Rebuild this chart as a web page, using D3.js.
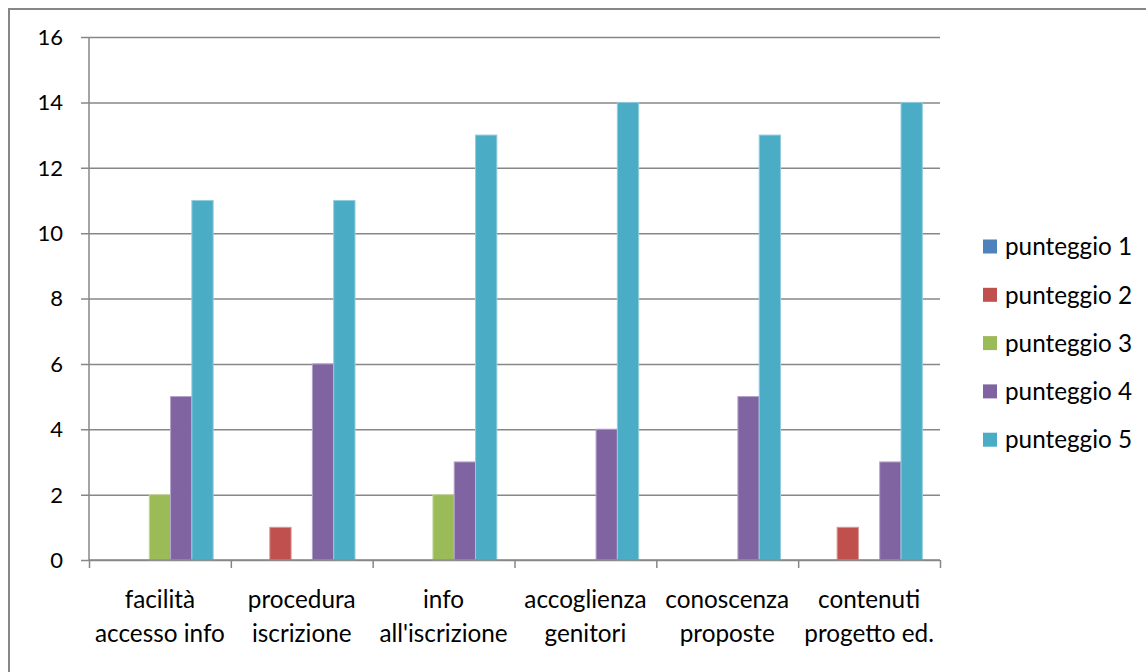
<!DOCTYPE html>
<html><head><meta charset="utf-8">
<script src="https://cdn.jsdelivr.net/npm/d3@7"></script>
<style>body{margin:0;background:#fff}svg{display:block}text{font-family:Lato,"Open Sans",sans-serif;fill:#000}</style>
</head><body><svg id="c" width="1146" height="672"></svg>
<script>
const categories = [["facilità","accesso info"],["procedura","iscrizione"],["info","all'iscrizione"],["accoglienza","genitori"],["conoscenza","proposte"],["contenuti","progetto ed."]];
const seriesNames = ["punteggio 1","punteggio 2","punteggio 3","punteggio 4","punteggio 5"];
const p1 = [0,0,0,0,0,0];
const p2 = [0,1,0,0,0,1];
const p3 = [2,0,2,0,0,0];
const p4 = [5,6,3,4,5,3];
const p5 = [11,11,13,14,13,14];
const yTicks = [0,2,4,6,8,10,12,14,16];
const colors = ["#4F81BD","#C0504D","#9BBB59","#8064A2","#4BACC6"];
const strokes = ["#8EABD6","#DA9593","#C4D79E","#B3A2C7","#93CDDD"];
const series = [p1,p2,p3,p4,p5];

const svg = d3.select("#c");
const L=89, R=940, T=37, B=560;
const FSY = 22, FS = 24.3;

// frame
svg.append("path").attr("d","M9,672 L9,9 L1146,9").attr("fill","none").attr("stroke","#878787").attr("stroke-width",2);

const x0 = d3.scaleBand().domain(d3.range(categories.length)).range([L,R]).padding(0);
const gw = x0.bandwidth();
const bw = 21.3;
const x1 = d3.scaleBand().domain(d3.range(series.length)).range([(gw-5*bw)/2,(gw+5*bw)/2]).padding(0);
const y = d3.scaleLinear().domain([0,16]).range([B,T]);

// gridlines
const yAxis = d3.axisLeft(y).tickValues(yTicks).tickSize(-(R-L)).tickFormat("");
const gy = svg.append("g").attr("transform",`translate(${L},0)`).call(yAxis);
gy.select(".domain").remove();
gy.selectAll("line").attr("stroke","#878787").attr("stroke-width",1.5).attr("x1",-8);

// bars
const groups = svg.append("g").selectAll("g").data(categories).join("g")
  .attr("transform",(d,i)=>`translate(${x0(i)},0)`);
groups.selectAll("rect").data((d,i)=>series.map((s,k)=>({k,v:s[i]}))).join("rect")
  .filter(d=>d.v>0)
  .attr("x",d=>x1(d.k)).attr("width",x1.bandwidth())
  .attr("y",d=>y(d.v)).attr("height",d=>y(0)-y(d.v))
  .attr("fill",d=>colors[d.k]).attr("stroke",d=>strokes[d.k]).attr("stroke-width",1);

// axes lines
svg.append("line").attr("x1",L).attr("x2",L).attr("y1",T).attr("y2",B).attr("stroke","#878787").attr("stroke-width",1.5);
const xAxis = d3.axisBottom(d3.scaleLinear().domain([0,6]).range([L,R])).tickValues(d3.range(7)).tickSize(8).tickFormat("");
const gx = svg.append("g").attr("transform",`translate(0,${B})`).call(xAxis);
gx.select(".domain").attr("d",`M${L},0H${R}`).attr("stroke","#878787").attr("stroke-width",1.5);
gx.selectAll("line").attr("stroke","#878787").attr("stroke-width",1.5);

// y labels
svg.append("g").selectAll("text").data(yTicks).join("text")
  .attr("x",63).attr("y",d=>y(d)).attr("dy","0.36em").attr("text-anchor","end")
  .attr("font-size",FSY).text(d=>d);

// x labels
const xl = svg.append("g").selectAll("text").data(categories).join("text")
  .attr("text-anchor","middle").attr("font-size",FS);
xl.each(function(d,i){
  const t=d3.select(this);
  d.forEach((ln,j)=>t.append("tspan").attr("x",x0(i)+gw/2).attr("y",608+j*33.5).text(ln));
});

// legend
const lg = svg.append("g").selectAll("g").data(seriesNames).join("g")
  .attr("transform",(d,i)=>`translate(983,${246.5+i*48.3})`);
lg.append("rect").attr("x",0).attr("y",-7).attr("width",14).attr("height",14).attr("fill",(d,i)=>colors[i]);
lg.append("text").attr("x",22).attr("y",0).attr("dy","0.36em").attr("font-size",FS).text(d=>d);
</script></body></html>
